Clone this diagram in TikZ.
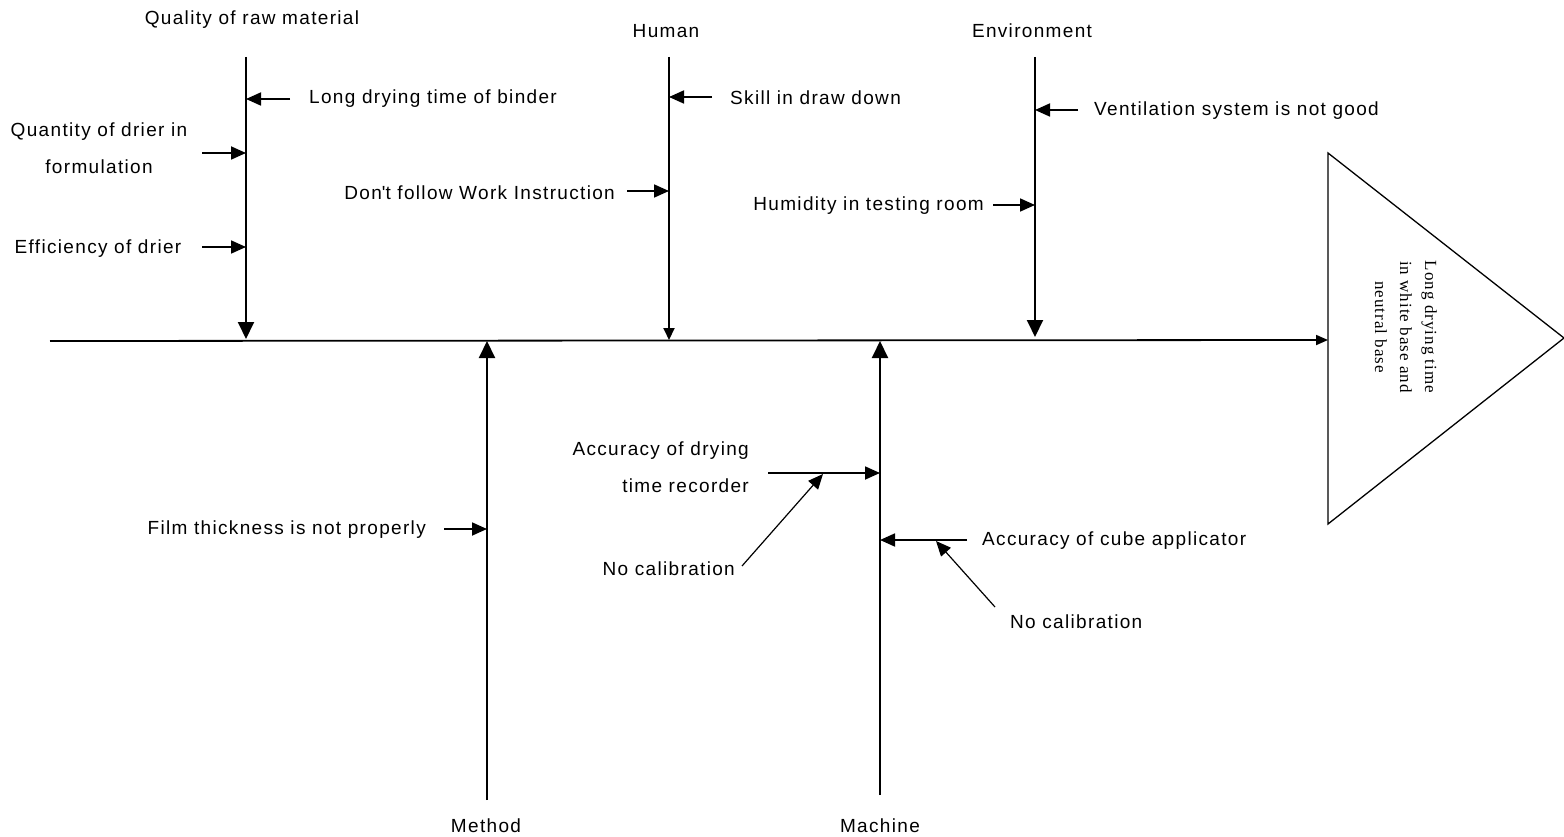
\documentclass[tikz,border=0pt]{standalone}
\usepackage{fontspec}
\setmainfont{Liberation Sans}[LetterSpace=7]
\newfontfamily\effectface{Liberation Serif}[LetterSpace=6]
\usetikzlibrary{arrows.meta}

\begin{document}
\begin{tikzpicture}[x=1pt,y=-1pt,
  txt/.style={font=\fontsize{19}{37}\selectfont, inner sep=0pt},
  spine/.style={line width=1.8pt, -{Triangle[length=12pt,width=10pt]}},
  bone/.style={line width=2pt, -{Triangle[length=17pt,width=16pt]}},
  smallbone/.style={line width=2pt, -{Triangle[length=12pt,width=11pt]}},
  cause/.style={line width=1.8pt, -{Triangle[length=15pt,width=13pt]}},
  subcause/.style={line width=1.2pt, -{Triangle[length=15pt,width=13pt]}}]
\useasboundingbox (0,0) rectangle (1564,837);

% ---- effect head and spine ----
\coordinate (t1) at (1328,153);
\coordinate (t2) at (1328,524);
\coordinate (t3) at (1564,338);
\draw[line width=1.3pt] (t1) -- (t3) -- (t2) -- cycle;
\node[font=\effectface\fontsize{17}{25}\selectfont, rotate=-90, align=center, inner sep=0pt]
  (effect) at (1406,327) {Long drying time\\in white base and\\neutral base};
\coordinate (tail) at (50,341);
\coordinate (head) at (1328,340);
\draw[spine] (tail) -- (head);

% ---- main bones ----
\node[txt] (raw) at (252,20) {Quality of raw material};
\coordinate (rawtop) at (246,57);
\coordinate (rawend) at (246,339);
\draw[bone] (rawtop) -- (rawend);

\node[txt] (human) at (666,31) {Human};
\coordinate (humantop) at (669,57);
\coordinate (humanend) at (669,340);
\draw[smallbone] (humantop) -- (humanend);

\node[txt] (env) at (1032,31) {Environment};
\coordinate (envtop) at (1035,57);
\coordinate (envend) at (1035,337);
\draw[bone] (envtop) -- (envend);

\node[txt] (method) at (486,826) {Method};
\coordinate (methodbot) at (487,800);
\coordinate (methodend) at (487,341);
\draw[bone] (methodbot) -- (methodend);

\node[txt] (machine) at (880,826) {Machine};
\coordinate (machinebot) at (880,795);
\coordinate (machineend) at (880,341);
\draw[bone] (machinebot) -- (machineend);

% ---- raw material causes ----
\node[txt, anchor=west] (binder) at (309,99) {Long drying time of binder};
\coordinate (binderfrom) at (290,99);
\coordinate (binderto) at (246,99);
\draw[cause] (binderfrom) -- (binderto);

\node[txt, align=center] (quantity) at (99,148) {Quantity of drier in\\formulation};
\coordinate (quantityfrom) at (202,153);
\coordinate (quantityto) at (246,153);
\draw[cause] (quantityfrom) -- (quantityto);

\node[txt] (efficiency) at (98,249) {Efficiency of drier};
\coordinate (efficiencyfrom) at (202,247);
\coordinate (efficiencyto) at (246,247);
\draw[cause] (efficiencyfrom) -- (efficiencyto);

% ---- human causes ----
\node[txt, anchor=west] (skill) at (730,98) {Skill in draw down};
\coordinate (skillfrom) at (712,97);
\coordinate (skillto) at (669,97);
\draw[cause] (skillfrom) -- (skillto);

\node[txt, anchor=east] (wi) at (615,193) {Don\textquotesingle t follow Work Instruction};
\coordinate (wifrom) at (627,191);
\coordinate (wito) at (669,191);
\draw[cause] (wifrom) -- (wito);

% ---- environment causes ----
\node[txt, anchor=west] (vent) at (1094,111) {Ventilation system is not good};
\coordinate (ventfrom) at (1078,110);
\coordinate (vento) at (1035,110);
\draw[cause] (ventfrom) -- (vento);

\node[txt, anchor=east] (humid) at (984,206) {Humidity in testing room};
\coordinate (humidfrom) at (993,205);
\coordinate (humidto) at (1035,205);
\draw[cause] (humidfrom) -- (humidto);

% ---- method causes ----
\node[txt, anchor=east] (film) at (426,530) {Film thickness is not properly};
\coordinate (filmfrom) at (444,529);
\coordinate (filmto) at (487,529);
\draw[cause] (filmfrom) -- (filmto);

% ---- machine causes ----
\node[txt, align=right, anchor=east] (recorder) at (749,467) {Accuracy of drying\\time recorder};
\coordinate (recorderfrom) at (768,473);
\coordinate (recorderto) at (880,473);
\draw[cause] (recorderfrom) -- (recorderto);

\node[txt, anchor=east] (calib1) at (735,569) {No calibration};
\coordinate (calib1from) at (742,566);
\coordinate (calib1to) at (823,474);
\draw[subcause] (calib1from) -- (calib1to);

\node[txt, anchor=west] (cube) at (982,541) {Accuracy of cube applicator};
\coordinate (cubefrom) at (967,540);
\coordinate (cubeto) at (880,540);
\draw[cause] (cubefrom) -- (cubeto);

\node[txt, anchor=west] (calib2) at (1010,622) {No calibration};
\coordinate (calib2from) at (995,607);
\coordinate (calib2to) at (936,541);
\draw[subcause] (calib2from) -- (calib2to);
\end{tikzpicture}
\end{document}
